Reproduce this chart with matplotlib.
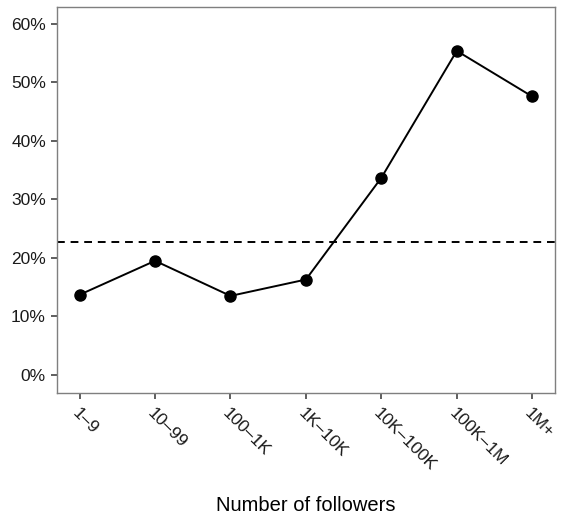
import matplotlib
matplotlib.use('Agg')
import matplotlib.pyplot as plt
from matplotlib.ticker import FuncFormatter

plt.rcParams['font.family'] = ['Liberation Sans', 'DejaVu Sans']

# share of accounts per follower bucket
groups = ['1–9', '10–99', '100–1K', '1K–10K', '10K–100K', '100K–1M', '1M+']
share = [13.7, 19.5, 13.5, 16.3, 33.7, 55.4, 47.6]
overall = 22.7

fig = plt.figure(figsize=(5.61, 5.16), dpi=100)
ax = fig.add_axes([0.1016, 0.2384, 0.8874, 0.748])

x = list(range(len(groups)))
ax.axhline(overall, color='black', lw=1.4, dashes=(4, 3))
ax.plot(x, share, '-o', color='black', lw=1.4, markersize=8)

ax.set_xlim(-0.3, 6.3)
ax.set_ylim(-3.1, 62.9)
ax.set_yticks([0, 10, 20, 30, 40, 50, 60])
ax.yaxis.set_major_formatter(FuncFormatter(lambda v, p: '%d%%' % v))
ax.set_xticks(x)
ax.set_xticklabels(groups, rotation=-45, ha='left', va='top',
                   rotation_mode='anchor')

for side in ax.spines.values():
    side.set_color('#7f7f7f')
    side.set_linewidth(1.0)
ax.tick_params(axis='both', length=4, width=1.1, color='#333333',
               labelsize=12.5, labelcolor='#1a1a1a', pad=4)
ax.tick_params(axis='x', pad=5)

fig.text(0.5455, 0.0213, 'Number of followers', ha='center', va='center',
         fontsize=14.5)

fig.savefig('out.png', dpi=100)
